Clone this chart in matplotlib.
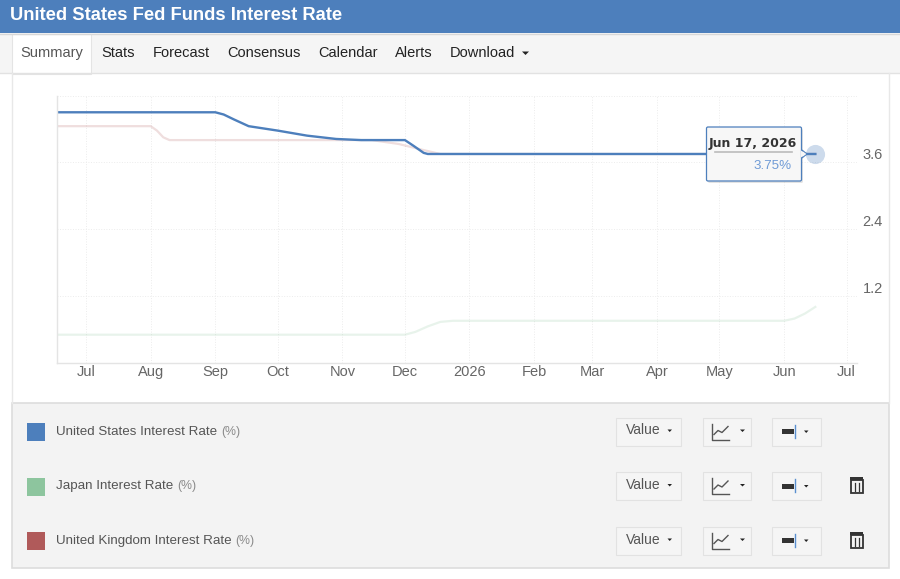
import datetime as dt
import matplotlib
matplotlib.use("Agg")
import matplotlib.pyplot as plt
import matplotlib.dates as mdates
from matplotlib.patches import Rectangle, FancyBboxPatch, Polygon

W, H = 900, 579
BLUE = "#4d7fbc"
GREEN = "#8dc59e"
RED = "#b05a5a"

plt.rcParams["font.family"] = ["Liberation Sans", "DejaVu Sans"]

# values
us_dates = ["2025-06-17", "2025-08-01", "2025-09-01", "2025-09-05", "2025-09-10", "2025-09-17",
            "2025-10-01", "2025-10-15", "2025-10-29", "2025-11-10", "2025-12-01", "2025-12-05",
            "2025-12-10", "2025-12-12", "2026-03-01", "2026-06-16"]
us_rate = [4.5, 4.5, 4.5, 4.46, 4.37, 4.25, 4.17, 4.08, 4.02, 4.0, 4.0, 3.9, 3.77, 3.75, 3.75, 3.75]

japan_dates = ["2025-06-17", "2025-09-01", "2025-12-01", "2025-12-06", "2025-12-12", "2025-12-18",
               "2025-12-24", "2026-03-01", "2026-06-01", "2026-06-06", "2026-06-11", "2026-06-16"]
japan_rate = [0.5, 0.5, 0.5, 0.55, 0.65, 0.73, 0.75, 0.75, 0.75, 0.79, 0.88, 1.0]

uk_dates = ["2025-06-18", "2025-08-01", "2025-08-04", "2025-08-07", "2025-08-10", "2025-10-01",
            "2025-11-15", "2025-11-28", "2025-12-10", "2025-12-18", "2026-03-01", "2026-06-16"]
uk_rate = [4.25, 4.25, 4.17, 4.05, 4.0, 4.0, 4.0, 3.93, 3.82, 3.75, 3.75, 3.75]

tick_dates = ["2025-07-01", "2025-08-01", "2025-09-01", "2025-10-01", "2025-11-01", "2025-12-01",
              "2026-01-01", "2026-02-01", "2026-03-01", "2026-04-01", "2026-05-01", "2026-06-01", "2026-07-01"]
tick_labels = ["Jul", "Aug", "Sep", "Oct", "Nov", "Dec", "2026", "Feb", "Mar", "Apr", "May", "Jun", "Jul"]
y_ticks = [1.2, 2.4, 3.6, 4.8]
y_labels = ["1.2", "2.4", "3.6", ""]

legend_names = ["United States Interest Rate", "Japan Interest Rate", "United Kingdom Interest Rate"]
legend_colors = [BLUE, GREEN, RED]
tabs = ["Summary", "Stats", "Forecast", "Consensus", "Calendar", "Alerts", "Download"]
tab_x = [20, 101, 153, 227, 318, 395, 450]


def to_num(dates):
    return [mdates.date2num(dt.date.fromisoformat(d)) for d in dates]


fig = plt.figure(figsize=(W / 100, H / 100), dpi=100, facecolor="white")

# page around the chart, in pixel coordinates
page = fig.add_axes([0, 0, 1, 1], zorder=0)
page.set_xlim(0, W)
page.set_ylim(H, 0)
page.axis("off")

page.add_patch(Rectangle((0, 0), W, 33, fc=BLUE, ec="none"))
page.text(10, 16, "United States Fed Funds Interest Rate", color="white", fontsize=13.2,
          fontweight="bold", va="center")
page.add_patch(Rectangle((0, 33), W, 40, fc="#f5f5f5", ec="none"))
page.plot([0, W], [33.5, 33.5], color="#d8d8d8", lw=1)
page.plot([0, W], [73, 73], color="#e2e2e2", lw=1)
page.add_patch(Rectangle((12, 34), 79, 40, fc="white", ec="#e4e4e4", lw=0.8))
for i, (name, x) in enumerate(zip(tabs, tab_x)):
    page.text(x, 53, name, fontsize=10.5, va="center", color="#555555" if i == 0 else "#222222")
page.add_patch(Polygon([[522, 51.5], [529, 51.5], [525.5, 55]], fc="#222222", ec="none"))

page.plot([12, 12], [73, 403], color="#e8e8e8", lw=1)
page.plot([889, 889], [73, 403], color="#e8e8e8", lw=1)
page.add_patch(Rectangle((12, 403), 877, 165, fc="#f3f3f3", ec="#dddddd", lw=1.2))

rows = [432, 486.5, 541]
for y, name, col in zip(rows, legend_names, legend_colors):
    page.add_patch(Rectangle((27, y - 9), 18, 18, fc=col, ec="none"))
    t = page.text(56, y, name, fontsize=9.6, va="center", color="#555555")
    fig.canvas.draw()
    end = t.get_window_extent().x1
    page.text(end + 4, y, "(%)", fontsize=8.8, va="center", color="#8a8a8a")

    mid = y - 0.5
    page.add_patch(Rectangle((616, mid - 14), 65, 28, fc="#f5f5f5", ec="#e2e2e2", lw=0.8))
    page.text(626, mid - 1, "Value", fontsize=10, va="center", color="#555555")
    page.add_patch(Polygon([[667.5, mid - 2], [672, mid - 2], [669.7, mid + 0.5]], fc="#222222", ec="none"))

    page.add_patch(Rectangle((703, mid - 14), 48, 28, fc="#f5f5f5", ec="#e2e2e2", lw=0.8))
    page.plot([712, 712, 729], [mid - 8, mid + 8, mid + 8], color="#555555", lw=1)
    page.plot([714, 718, 722, 728], [mid + 3, mid - 1, mid + 1, mid - 5], color="#555555", lw=1)
    page.add_patch(Polygon([[740, mid - 2], [745, mid - 2], [742.5, mid + 0.5]], fc="#222222", ec="none"))

    page.add_patch(Rectangle((772, mid - 14), 49, 28, fc="#f5f5f5", ec="#e2e2e2", lw=0.8))
    page.add_patch(Rectangle((782, mid - 2.5), 12, 5, fc="#333333", ec="none"))
    page.plot([795, 795], [mid - 7, mid + 6], color="#5a8fd0", lw=1)
    page.add_patch(Polygon([[804, mid - 1], [808.5, mid - 1], [806.2, mid + 1.5]], fc="#222222", ec="none"))

# trash cans on the two removable rows
for y in rows[1:]:
    mid = y - 2.5
    page.add_patch(Rectangle((850.5, mid - 4), 12, 13, fc="none", ec="#333333", lw=1.3))
    page.add_patch(Rectangle((850, mid - 7), 13, 3, fc="#333333", ec="none"))
    page.plot([854.5, 854.5], [mid - 1, mid + 7], color="#333333", lw=0.9)
    page.plot([858.5, 858.5], [mid - 1, mid + 7], color="#333333", lw=0.9)

# chart
left, right, top, bottom = 57, 857, 95.6, 362.5
ax = fig.add_axes([left / W, 1 - bottom / H, (right - left) / W, (bottom - top) / H], zorder=1)
ax.patch.set_alpha(0)
ax.set_xlim(*to_num(["2025-06-17", "2026-07-06"]))
ax.set_ylim(0, 4.8)

ax.plot(to_num(japan_dates), japan_rate, color=GREEN, alpha=0.2, lw=1.6, solid_joinstyle="round")
ax.plot(to_num(uk_dates), uk_rate, color=RED, alpha=0.2, lw=1.6, solid_joinstyle="round")
ax.plot(to_num(us_dates), us_rate, color=BLUE, lw=1.7, solid_joinstyle="round")
ax.scatter(to_num(us_dates[-1:]), us_rate[-1:], s=190, color=BLUE, alpha=0.28, linewidths=0, clip_on=False)

ax.set_xticks(to_num(tick_dates))
ax.set_xticklabels(tick_labels)
ax.set_yticks(y_ticks)
ax.set_yticklabels(y_labels)
ax.yaxis.tick_right()
ax.tick_params(axis="x", length=0, pad=2, labelsize=10.5, labelcolor="#666666")
ax.tick_params(axis="y", length=0, pad=4, labelsize=10.5, labelcolor="#666666")
for lab in ax.get_yticklabels():
    lab.set_verticalalignment("bottom")
ax.grid(True, color="#ececec", lw=0.7, ls=":")
ax.set_axisbelow(True)
for side in ["top", "right"]:
    ax.spines[side].set_visible(False)
for side in ["left", "bottom"]:
    ax.spines[side].set_color("#e4e4e4")
    ax.spines[side].set_linewidth(1)

# tooltip on top of the chart
over = fig.add_axes([0, 0, 1, 1], zorder=2)
over.set_xlim(0, W)
over.set_ylim(H, 0)
over.axis("off")
over.patch.set_alpha(0)
over.add_patch(FancyBboxPatch((708, 129), 95, 54, boxstyle="round,pad=0,rounding_size=1.5",
                              fc="#bbbbbb", ec="none", alpha=0.4))
over.add_patch(Polygon([[802, 150], [807, 154], [802, 158]], fc="#f7f7f7", ec=BLUE, lw=0.8))
over.add_patch(FancyBboxPatch((706.5, 127), 95, 54, boxstyle="round,pad=0,rounding_size=1.5",
                              fc="#f7f7f7", ec=BLUE, lw=0.9))
over.add_patch(Polygon([[801, 150.5], [806, 154], [801, 157.5]], fc="#f7f7f7", ec="none"))
over.text(753, 143, "Jun 17, 2026", fontsize=9, fontweight="bold", family=["DejaVu Sans"],
          ha="center", va="center", color="#333333")
over.plot([715, 792], [152, 152], color="#bbbbbb", lw=1.2)
over.text(791.5, 166, "3.75%", fontsize=9.6, ha="right", va="center", color="#6f9bd6")

fig.savefig("out.png", dpi=100, facecolor="white")
